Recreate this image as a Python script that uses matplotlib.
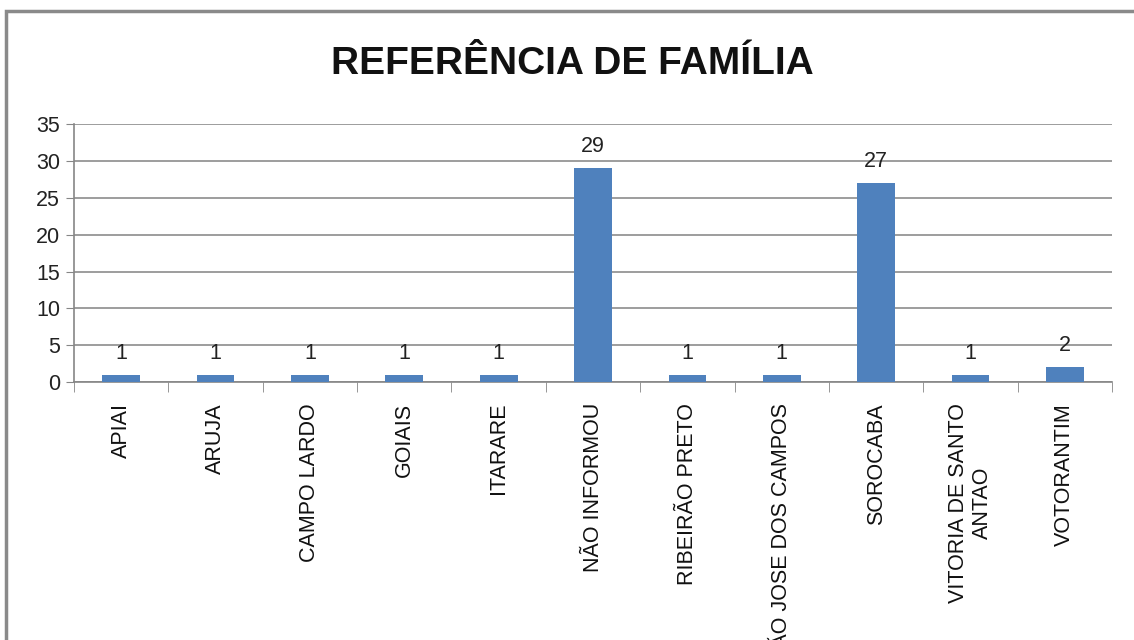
import numpy as np
import matplotlib.pyplot as plt
from matplotlib.patches import Rectangle

# data
cidades = ["APIAI", "ARUJA", "CAMPO LARDO", "GOIAIS", "ITARARE",
           "NÃO INFORMOU", "RIBEIRÃO PRETO", "SÃO JOSE DOS CAMPOS",
           "SOROCABA", "VITORIA DE SANTO\nANTAO", "VOTORANTIM"]
quantidade = [1, 1, 1, 1, 1, 29, 1, 1, 27, 1, 2]
y_ticks = [0, 5, 10, 15, 20, 25, 30, 35]

plt.rcParams['font.family'] = ['Liberation Sans', 'DejaVu Sans']

fig = plt.figure(figsize=(11.34, 6.4), dpi=100)
ax = fig.add_axes([0.0653, 0.403, 0.9153, 0.403])

x = np.arange(len(cidades))
bars = ax.bar(x, quantidade, width=0.4, color="#4F81BD", zorder=3)

for b, v in zip(bars, quantidade):
    ax.annotate(str(v), (b.get_x() + b.get_width() / 2, v),
                xytext=(0, 8), textcoords="offset points",
                ha="center", va="bottom", fontsize=15.5, color="#222222")

ax.set_xlim(-0.5, len(cidades) - 0.5)
ax.set_ylim(0, 35)
ax.set_yticks(y_ticks)
ax.tick_params(axis="y", labelsize=15.5, length=6, color="#868686", pad=4, labelcolor="#222222")
ax.yaxis.grid(True, color="#8c8c8c", linewidth=1.2, zorder=0)

ax.set_xticks(x)
ax.set_xticklabels(cidades, rotation=90, fontsize=15.5, color="#111111",
                   va="top", ha="center", multialignment="center")
ax.tick_params(axis="x", which="major", length=0, pad=15)
ax.set_xticks(np.arange(-0.5, len(cidades)), minor=True)
ax.tick_params(axis="x", which="minor", length=7, color="#868686")

for s in ["top", "right"]:
    ax.spines[s].set_visible(False)
for s in ["left", "bottom"]:
    ax.spines[s].set_color("#868686")
    ax.spines[s].set_linewidth(1.2)

fig.text(0.505, 0.9, "REFERÊNCIA DE FAMÍLIA", ha="center", va="center",
         fontsize=28, fontweight="bold", color="#111111")

# chart frame, runs off the right and bottom edges
fig.patches.append(Rectangle((6 / 1134, -0.1), 1.2, 1 - 11 / 640 + 0.1,
                             transform=fig.transFigure, fill=False,
                             edgecolor="#8a8a8a", linewidth=2.5))

fig.savefig("out.png", dpi=100)
